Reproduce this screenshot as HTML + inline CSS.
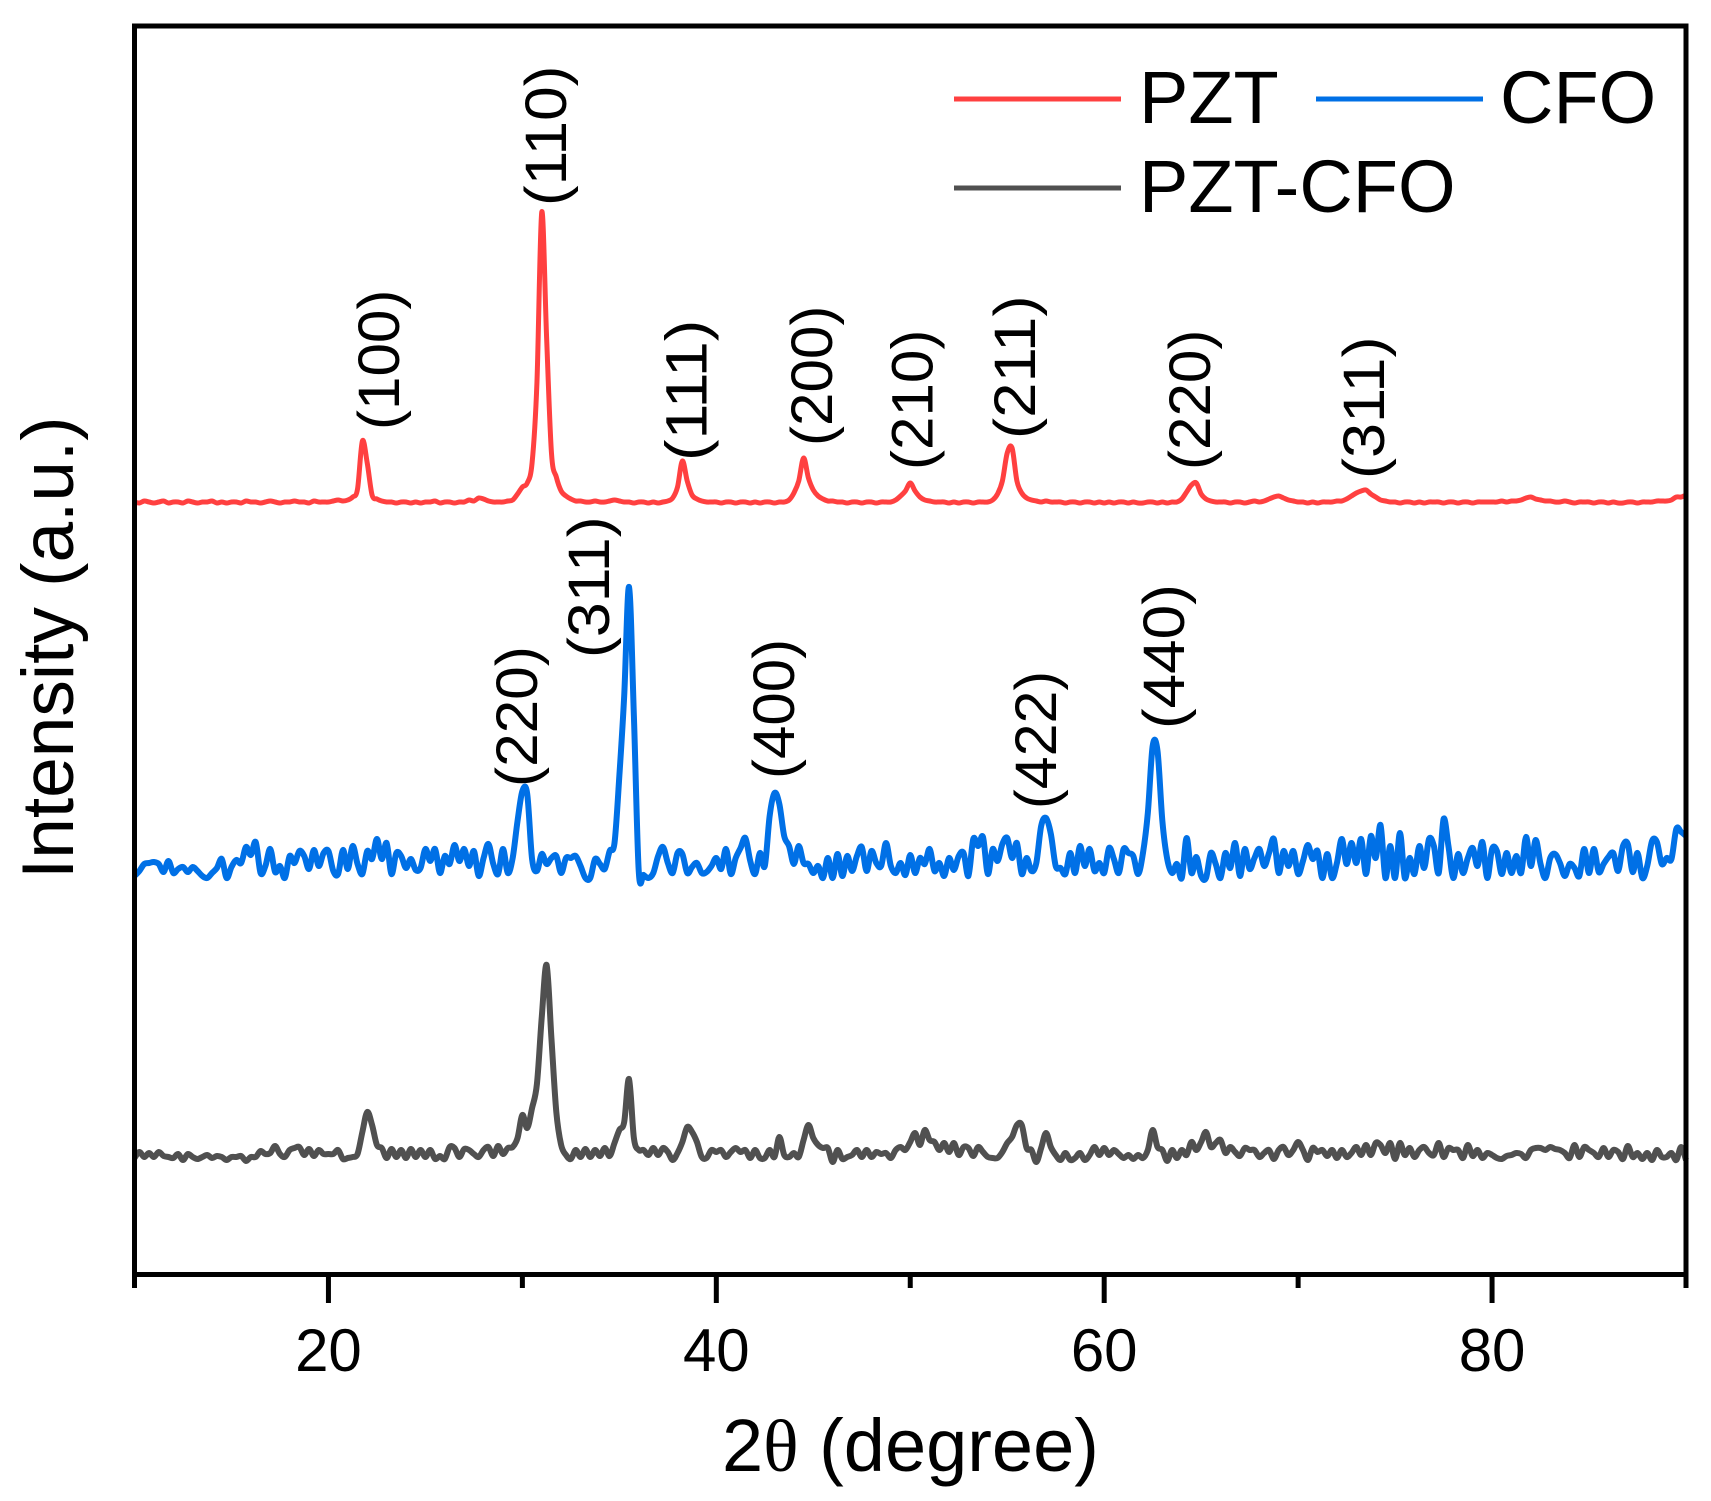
<!DOCTYPE html>
<html lang="en">
<head>
<meta charset="utf-8">
<title>XRD patterns of PZT, CFO and PZT-CFO</title>
<style>
html,body{margin:0;padding:0;background:#fff;}
svg{display:block;}
text{font-family:"Liberation Sans",sans-serif;fill:#000;}
</style>
</head>
<body>
<svg id="chart" xmlns="http://www.w3.org/2000/svg" width="1711" height="1501" viewBox="0 0 1711 1501">
  <rect x="0" y="0" width="1711" height="1501" fill="#fff"/>
  <g id="series-layer" fill="none" stroke-linejoin="round" stroke-linecap="butt"></g>
  <rect x="134.5" y="26" width="1551.5" height="1248.5" fill="none" stroke="#000" stroke-width="5"/>
  <g id="tick-layer"></g>

  <text x="722" y="1471" font-size="74">2<tspan style="font-family:'Liberation Serif',serif">θ</tspan> (degree)</text>
  <text transform="translate(73,879) rotate(-90)" font-size="73">Intensity (a.u.)</text>

  <g font-size="58">
    <text transform="translate(399,430) rotate(-90) scale(1.037,1)">(100)</text>
    <text transform="translate(566,206) rotate(-90) scale(1.07,1)">(110)</text>
    <text transform="translate(706.5,461) rotate(-90) scale(1.115,1)">(111)</text>
    <text transform="translate(832,446) rotate(-90) scale(1.037,1)">(200)</text>
    <text transform="translate(932.5,470) rotate(-90) scale(1.037,1)">(210)</text>
    <text transform="translate(1035,439) rotate(-90) scale(1.095,1)">(211)</text>
    <text transform="translate(1210,470) rotate(-90) scale(1.037,1)">(220)</text>
    <text transform="translate(1384,479) rotate(-90) scale(1.087,1)">(311)</text>
  </g>
  <g font-size="58">
    <text transform="translate(537,787) rotate(-90) scale(1.04,1)">(220)</text>
    <text transform="translate(609,658) rotate(-90) scale(1.08,1)">(311)</text>
    <text transform="translate(794,779) rotate(-90) scale(1.035,1)">(400)</text>
    <text transform="translate(1056,809) rotate(-90) scale(1.02,1)">(422)</text>
    <text transform="translate(1184,729) rotate(-90) scale(1.07,1)">(440)</text>
  </g>

  <g>
    <g>
      <line x1="954" y1="99" x2="1121" y2="99" stroke="#FF4040" stroke-width="5"/>
      <text x="1139" y="123" font-size="74">PZT</text>
    </g>
    <g>
      <line x1="1316" y1="99" x2="1483" y2="99" stroke="#0070E6" stroke-width="5"/>
      <text x="1500" y="123" font-size="74">CFO</text>
    </g>
    <g>
      <line x1="954" y1="188" x2="1121" y2="188" stroke="#505050" stroke-width="5"/>
      <text x="1139" y="212" font-size="74">PZT-CFO</text>
    </g>
  </g>
</svg>
<script>
// Sampling grid of the diffractogram (degrees 2-theta)
const startAngle = 10;
const stepAngle = 0.25;

// Vertical stacking offsets of each pattern (a.u.)
const pztOffset = 771.5;
const cfoOffset = 408.5;
const pztCfoOffset = 117.5;

// Axis tick values
const majorTicks = [20, 40, 60, 80];
const minorTicks = [10, 30, 50, 70, 90];

// Intensity above each pattern's baseline (a.u.), one value per grid step
const pztValues = [
1,0,2,1,0,1,2,0,1,1,0,2,1,0,1,1,2,0,1,0,1,1,0,2,1,1,0,1,2,1,0,1,1,2,1,1,0,2,1,1,
1,2,3,2,3,6,14,62,40,8,4,2,1,1,0,1,1,0,1,0,1,1,2,0,1,1,0,1,1,3,2,5,4,2,1,1,1,2,3,9,
16,20,40,120,291,165,50,26,12,7,4,2,2,1,1,2,1,1,2,3,2,1,1,0,1,1,0,1,0,1,2,5,16,42,22,8,4,2,1,1,
1,0,1,1,0,1,1,0,1,0,1,1,0,1,1,3,10,22,45,25,13,7,4,2,2,1,1,0,1,1,0,1,1,0,1,1,1,3,7,12,
20,12,6,3,2,1,1,1,0,1,0,1,1,0,1,1,1,3,9,22,50,55,22,10,5,3,2,1,2,1,1,1,0,1,1,0,1,1,0,1,
0,1,0,1,1,0,1,0,0,1,1,0,1,0,1,1,4,11,18,20,9,4,2,1,1,1,0,1,1,0,1,2,1,2,4,6,7,5,3,2,
1,1,0,1,0,1,1,1,2,2,4,7,10,12,13,9,6,3,2,1,1,0,1,1,0,1,0,1,1,1,0,1,1,0,1,1,0,1,1,1,
1,1,2,1,2,2,3,5,6,4,3,2,2,1,1,2,1,0,1,1,1,0,1,1,0,1,0,0,1,1,0,1,1,1,2,2,2,3,6,6,8
];
const cfoValues = [
-10,-5,2,3,4,2,-6,5,-7,-3,-1,-6,-1,-5,-10,-12,-7,-2,7,-12,-1,6,3,19,11,24,-7,0,17,-6,0,-12,10,3,15,10,-3,16,0,13,
15,-5,-8,16,-3,20,2,-8,15,7,27,7,23,-8,13,10,-2,7,-4,-2,17,5,17,-7,10,2,21,5,17,0,15,-10,8,22,2,-8,17,-7,8,45,
75,72,7,-5,12,2,8,10,-7,8,8,10,0,-12,-12,7,2,-3,15,23,90,170,279,150,-5,-9,-12,-7,10,19,3,-7,13,12,-7,-1,3,-7,-6,0,
8,-3,17,-8,8,18,28,5,-8,13,0,50,73,62,30,20,2,20,3,2,-7,0,-12,8,-12,12,-10,10,-5,10,19,-5,15,3,0,23,0,-7,3,-9,
11,-7,8,2,17,-5,3,-10,8,-4,10,13,-10,27,20,29,-8,17,5,22,28,8,23,-8,8,-5,3,40,48,32,0,-2,-8,13,-7,20,0,17,-5,3,
-7,18,7,-7,17,13,10,-8,13,53,120,115,45,7,-7,2,-12,28,-7,9,-10,-12,13,2,-12,13,-2,23,-10,17,-3,8,17,0,13,27,-7,15,0,15,
-8,5,21,7,15,-12,12,-12,3,27,2,23,3,27,-8,30,8,41,-12,20,-12,33,-12,8,-8,20,-2,27,20,-7,47,20,-12,12,-7,8,18,0,24,-12,
17,15,-8,13,-7,10,-7,29,0,26,2,-12,8,12,3,-10,2,-2,-10,17,-7,17,-6,2,9,13,-5,20,22,-6,13,-12,0,25,24,2,8,7,37,34,
30
];
const pztCfoValues = [
-1,5,0,4,0,5,1,0,-1,3,-3,3,0,-2,0,2,-1,1,0,-3,0,0,1,-4,0,0,6,3,4,11,3,0,7,9,10,2,8,1,7,3,
3,3,7,-2,-1,0,3,25,45,32,12,9,-1,8,0,7,-1,8,0,7,0,7,-2,1,-2,10,9,0,8,7,3,0,7,10,1,11,3,9,10,19,
42,29,49,73,140,192,118,45,12,2,-2,7,0,8,0,7,1,9,1,14,27,35,78,19,7,7,2,9,2,9,5,-3,4,15,30,25,15,0,-1,7,
5,7,0,5,9,5,7,-1,7,-1,-1,7,0,20,2,0,4,0,17,32,19,12,9,9,-5,7,-2,0,2,7,0,7,0,5,3,4,-1,7,10,7,
15,24,12,27,17,15,7,14,5,14,2,10,9,1,10,5,0,-1,-1,5,14,20,32,32,9,7,-5,9,24,10,2,-3,4,-3,-1,4,-3,2,10,2,
9,2,7,3,-1,2,-2,2,-1,7,27,10,7,-4,7,-1,7,2,15,7,15,25,10,14,17,4,10,5,1,9,7,7,0,4,7,-2,7,10,2,7,
15,7,-3,9,5,7,1,7,-1,7,0,4,10,2,12,2,14,12,4,14,-2,14,2,9,0,7,10,4,2,14,0,9,7,7,-1,12,1,7,-1,4,
2,-1,-2,1,2,4,3,-1,7,9,9,7,10,8,7,4,-1,12,0,10,7,4,0,9,0,7,5,-2,11,0,4,-2,4,-3,7,0,0,4,-3,10,
-3
];

// Axis geometry and scale functions
const plotLeft = 134.5;
const plotRight = 1686;
const plotTop = 26;
const plotBottom = 1274.5;
const xDomain = [10, 90];
const yMaxValue = 1248.5;
function xScale(angle) {
  return plotLeft + (angle - xDomain[0]) / (xDomain[1] - xDomain[0]) * (plotRight - plotLeft);
}
function yScale(intensity) {
  return plotBottom - intensity / yMaxValue * (plotBottom - plotTop);
}
// Builds a smooth Catmull-Rom path through the data samples
function seriesPath(values, offset) {
  const pts = values.map(function (v, i) {
    return [xScale(startAngle + i * stepAngle), yScale(v + offset)];
  });
  let d = 'M' + pts[0][0].toFixed(2) + ' ' + pts[0][1].toFixed(2);
  for (let i = 0; i < pts.length - 1; i++) {
    const p0 = pts[Math.max(i - 1, 0)];
    const p1 = pts[i];
    const p2 = pts[i + 1];
    const p3 = pts[Math.min(i + 2, pts.length - 1)];
    const c1x = p1[0] + (p2[0] - p0[0]) / 6;
    const c1y = p1[1] + (p2[1] - p0[1]) / 6;
    const c2x = p2[0] - (p3[0] - p1[0]) / 6;
    const c2y = p2[1] - (p3[1] - p1[1]) / 6;
    d += 'C' + c1x.toFixed(2) + ' ' + c1y.toFixed(2) + ' ' + c2x.toFixed(2) + ' ' + c2y.toFixed(2) + ' ' + p2[0].toFixed(2) + ' ' + p2[1].toFixed(2);
  }
  return d;
}

const svgNS = 'http://www.w3.org/2000/svg';
const seriesLayer = document.getElementById('series-layer');
const tickLayer = document.getElementById('tick-layer');

const pztLine = document.createElementNS(svgNS, 'path');


pztLine.setAttribute('d', seriesPath(pztValues, pztOffset));
pztLine.setAttribute('stroke', '#FF4040');
pztLine.setAttribute('stroke-width', '5');
seriesLayer.appendChild(pztLine);

const cfoLine = document.createElementNS(svgNS, 'path');


cfoLine.setAttribute('d', seriesPath(cfoValues, cfoOffset));
cfoLine.setAttribute('stroke', '#0070E6');
cfoLine.setAttribute('stroke-width', '6');
seriesLayer.appendChild(cfoLine);

const pztCfoLine = document.createElementNS(svgNS, 'path');


pztCfoLine.setAttribute('d', seriesPath(pztCfoValues, pztCfoOffset));
pztCfoLine.setAttribute('stroke', '#505050');
pztCfoLine.setAttribute('stroke-width', '6');
seriesLayer.appendChild(pztCfoLine);

majorTicks.forEach(function (t) {
  const tick = document.createElementNS(svgNS, 'line');
  
  
  tick.setAttribute('x1', xScale(t));
  tick.setAttribute('x2', xScale(t));
  tick.setAttribute('y1', plotBottom);
  tick.setAttribute('y2', plotBottom + 28.5);
  tick.setAttribute('stroke', '#000');
  tick.setAttribute('stroke-width', '5');
  tickLayer.appendChild(tick);

  const label = document.createElementNS(svgNS, 'text');
  
  
  label.setAttribute('x', xScale(t));
  label.setAttribute('y', 1371);
  label.setAttribute('font-size', '60');
  label.setAttribute('text-anchor', 'middle');
  label.textContent = String(t);
  tickLayer.appendChild(label);
});

minorTicks.forEach(function (t) {
  const tick = document.createElementNS(svgNS, 'line');
  
  
  tick.setAttribute('x1', xScale(t));
  tick.setAttribute('x2', xScale(t));
  tick.setAttribute('y1', plotBottom);
  tick.setAttribute('y2', plotBottom + 13.5);
  tick.setAttribute('stroke', '#000');
  tick.setAttribute('stroke-width', '5');
  tickLayer.appendChild(tick);
});
</script>
</body>
</html>
